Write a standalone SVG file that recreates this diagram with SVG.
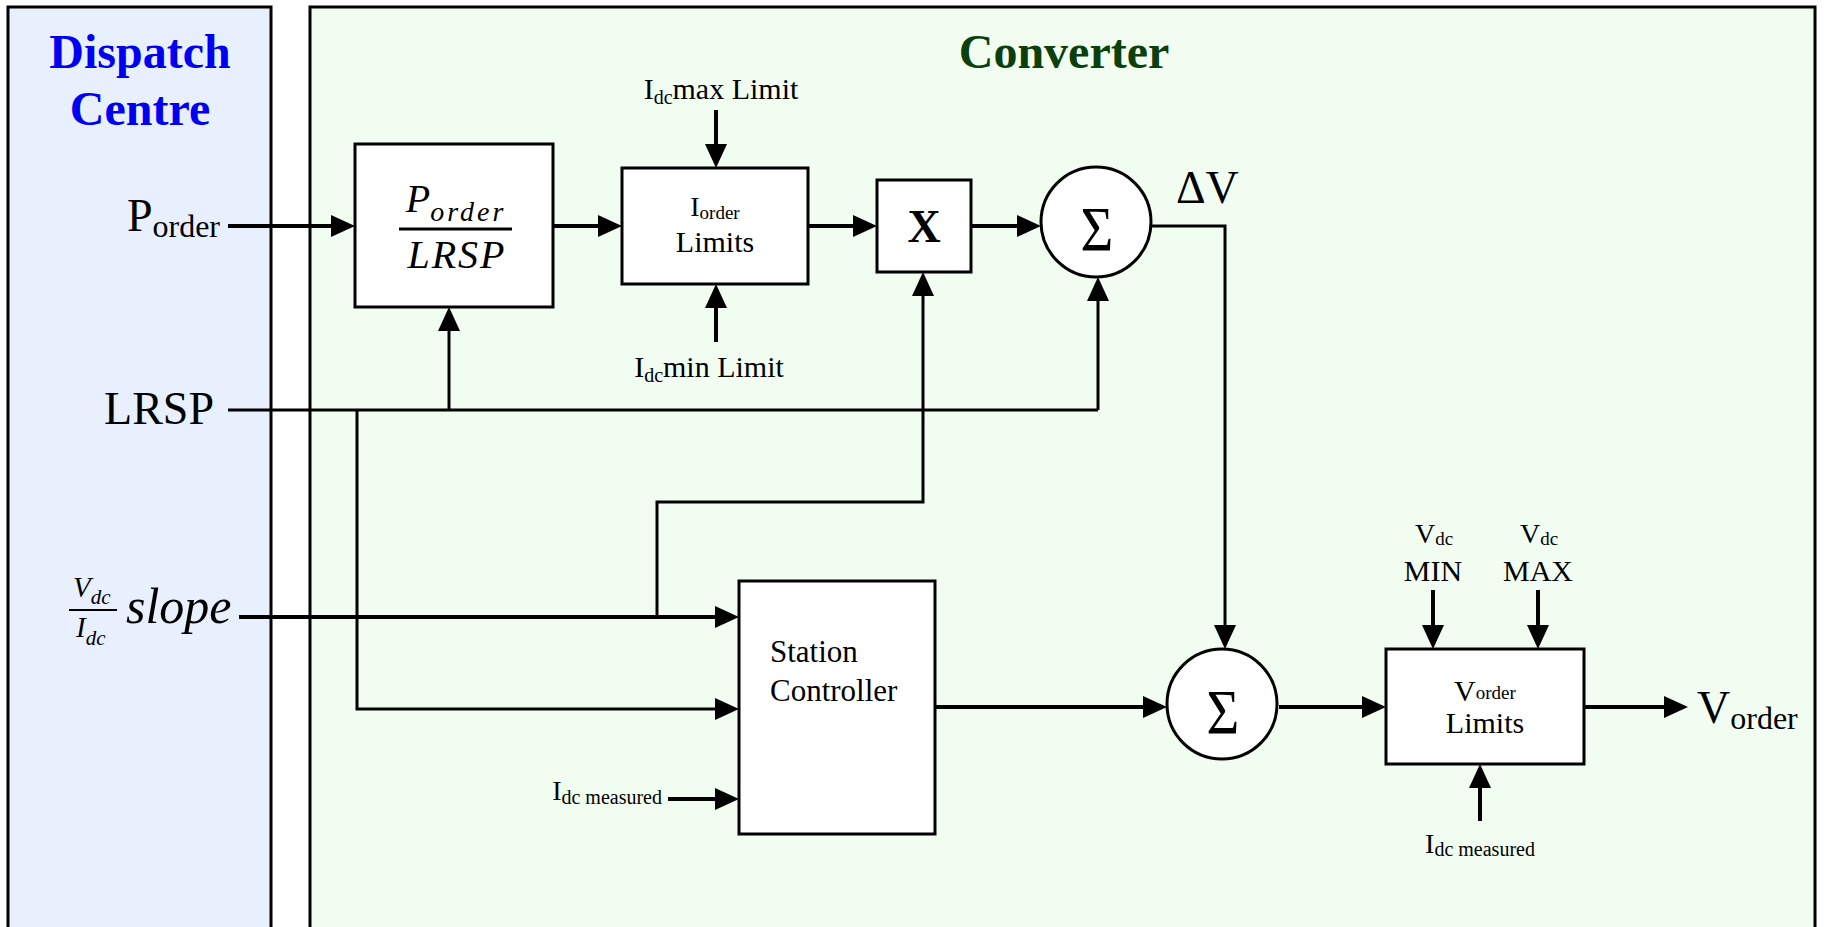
<svg xmlns="http://www.w3.org/2000/svg" width="1826" height="927" viewBox="0 0 1826 927">
<defs>
<style>
text{font-family:"Liberation Serif","Times New Roman",serif;fill:#000}
.ttl{font-weight:bold;font-size:48px}
.blk{fill:#fff;stroke:#000;stroke-width:3}
.ln{fill:none;stroke:#000;stroke-width:4}
.tn{fill:none;stroke:#000;stroke-width:3}
.arr{marker-end:url(#ah)}
.it{font-style:italic}
</style>
<marker id="ah" markerUnits="userSpaceOnUse" markerWidth="24" markerHeight="22" refX="10" refY="11" orient="auto">
<path d="M0,0 L24,11 L0,22 Z" fill="#000"/>
</marker>
</defs>
<rect width="1826" height="927" fill="#fff"/>
<g id="dispatch-panel">
<rect x="8" y="7" width="263" height="940" fill="#E8EFFD" stroke="#000" stroke-width="3"/>
<text class="ttl" x="140" y="68" text-anchor="middle" style="fill:#0000F0">Dispatch</text>
<text class="ttl" x="140" y="125" text-anchor="middle" style="fill:#0000F0">Centre</text>
</g>
<g id="converter-panel">
<rect x="310" y="7" width="1505" height="940" fill="#F2FDF2" stroke="#000" stroke-width="3"/>
<text class="ttl" x="1064" y="68" text-anchor="middle" style="fill:#0B3F0B">Converter</text>
</g>
<g id="inputs">
<text x="220" y="231" text-anchor="end" font-size="46">P<tspan font-size="32" dy="6">order</tspan></text>
<text x="214" y="424" text-anchor="end" font-size="46">LRSP</text>
<text class="it" x="73" y="597" font-size="29">V<tspan font-size="21" dy="7">dc</tspan></text>
<line x1="69" y1="610" x2="117" y2="610" stroke="#000" stroke-width="2"/>
<text class="it" x="76" y="637" font-size="29">I<tspan font-size="21" dy="8">dc</tspan></text>
<text class="it" x="126" y="623" font-size="50">slope</text>
</g>
<g id="connectors">
<path class="ln arr" d="M228,226 H341"/>
<path class="ln arr" d="M553,226 H608"/>
<path class="ln arr" d="M808,226 H863"/>
<path class="ln arr" d="M971,226 H1027"/>
<path class="tn arr" d="M1151,226 H1225 V635"/>
<path class="tn" d="M228,410 H1098"/>
<path class="tn arr" d="M1098,410 V291"/>
<path class="tn arr" d="M449,410 V321"/>
<path class="tn arr" d="M357,410 V709 H725"/>
<path class="ln arr" d="M239,617 H725"/>
<path class="tn arr" d="M657,617 V502 H923 V286"/>
<path class="ln arr" d="M668,799 H725"/>
<path class="ln arr" d="M935,707 H1153"/>
<path class="ln arr" d="M1279,707 H1372"/>
<path class="ln arr" d="M1584,707 H1674"/>
<path class="ln arr" d="M716,110 V154"/>
<path class="ln arr" d="M716,342 V298"/>
<path class="ln arr" d="M1433,590 V635"/>
<path class="ln arr" d="M1538,590 V635"/>
<path class="ln arr" d="M1480,821 V778"/>
</g>
<g id="division">
<rect class="blk" x="355" y="144" width="198" height="163"/>
<text class="it" x="456" y="212" text-anchor="middle" font-size="40">P<tspan font-size="28" dy="9" letter-spacing="3">order</tspan></text>
<line x1="399" y1="229" x2="512" y2="229" stroke="#000" stroke-width="3"/>
<text class="it" x="457" y="268" text-anchor="middle" font-size="40" letter-spacing="2">LRSP</text>
</g>
<g id="iorder-limits">
<rect class="blk" x="622" y="168" width="186" height="116"/>
<text x="715" y="216" text-anchor="middle" font-size="28">I<tspan font-size="19" dy="3">order</tspan></text>
<text x="715" y="252" text-anchor="middle" font-size="30">Limits</text>
<text x="721" y="99" text-anchor="middle" font-size="30">I<tspan font-size="20" dy="5">dc</tspan><tspan dy="-5">max Limit</tspan></text>
<text x="709" y="377" text-anchor="middle" font-size="30">I<tspan font-size="20" dy="5">dc</tspan><tspan dy="-5">min Limit</tspan></text>
</g>
<g id="multiplier">
<rect class="blk" x="877" y="180" width="94" height="92"/>
<text x="924" y="242" text-anchor="middle" font-size="46" font-weight="bold">X</text>
</g>
<g id="sum1">
<circle cx="1096" cy="222" r="55" fill="#fff" stroke="#000" stroke-width="3"/>
<text x="1097" y="251" text-anchor="middle" font-size="64" transform="translate(1097 0) scale(0.88 1) translate(-1097 0)">Σ</text>
<text x="1176" y="203" font-size="46">ΔV</text>
</g>
<g id="station-controller">
<rect class="blk" x="739" y="581" width="196" height="253"/>
<text x="770" y="662" font-size="31">Station</text>
<text x="770" y="701" font-size="31">Controller</text>
<text x="662" y="800" text-anchor="end" font-size="28">I<tspan font-size="20" dy="4">dc measured</tspan></text>
</g>
<g id="sum2">
<circle cx="1222" cy="704" r="55" fill="#fff" stroke="#000" stroke-width="3"/>
<text x="1223" y="734" text-anchor="middle" font-size="64" transform="translate(1223 0) scale(0.88 1) translate(-1223 0)">Σ</text>
</g>
<g id="vorder-limits">
<rect class="blk" x="1386" y="649" width="198" height="115"/>
<text x="1485" y="701" text-anchor="middle" font-size="30">V<tspan font-size="19" dy="-2">order</tspan></text>
<text x="1485" y="733" text-anchor="middle" font-size="30">Limits</text>
<text x="1434" y="543" text-anchor="middle" font-size="28">V<tspan font-size="19" dy="2">dc</tspan></text>
<text x="1433" y="581" text-anchor="middle" font-size="30">MIN</text>
<text x="1539" y="543" text-anchor="middle" font-size="28">V<tspan font-size="19" dy="2">dc</tspan></text>
<text x="1538" y="581" text-anchor="middle" font-size="30">MAX</text>
<text x="1480" y="853" text-anchor="middle" font-size="28">I<tspan font-size="20" dy="3">dc measured</tspan></text>
</g>
<g id="output">
<text x="1697" y="723" font-size="46">V<tspan font-size="32" dy="6">order</tspan></text>
</g>
</svg>
